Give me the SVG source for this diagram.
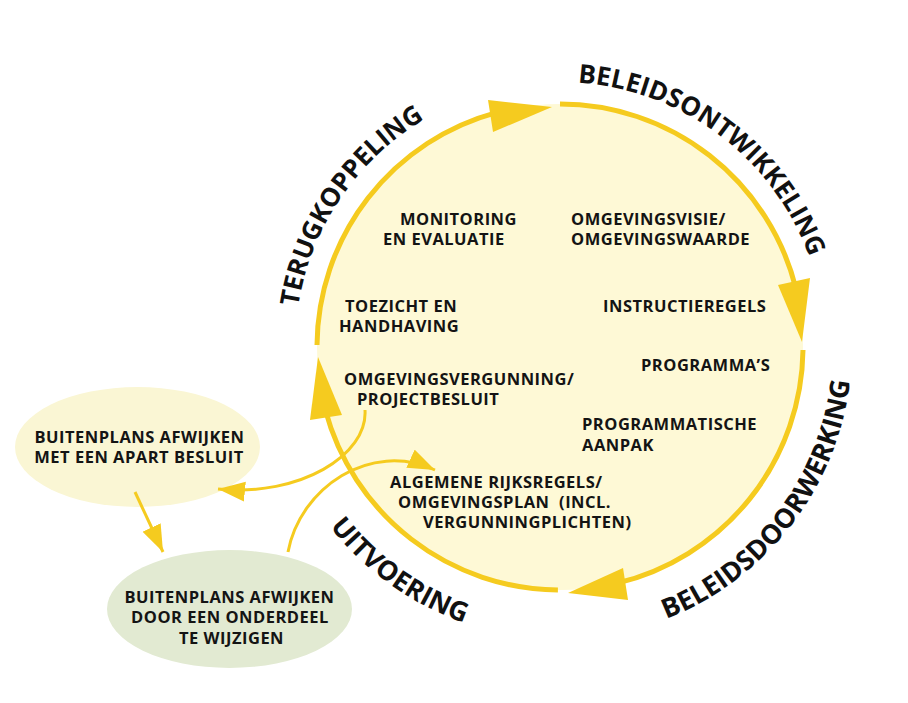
<svg xmlns="http://www.w3.org/2000/svg" xmlns:xlink="http://www.w3.org/1999/xlink" width="908" height="703" viewBox="0 0 908 703">
<style>
.bg{fill:#ffffff}
.ring{fill:none;stroke:#F5CB1F;stroke-width:5}
.head{fill:#F5CB1F}
.conn{fill:none;stroke:#F5CB1F;stroke-width:3}
.lbl{font-family:"Open Sans","Noto Sans","Liberation Sans",sans-serif;font-weight:700;font-size:16.5px;letter-spacing:0.5px;fill:#141414}
.mid{text-anchor:middle}
.phase{font-family:"Open Sans","Noto Sans","Liberation Sans",sans-serif;font-weight:700;fill:#111111;text-anchor:middle}
.top{font-size:26px}
.bot{font-size:27px}
</style>
<defs>
<marker id="ah" markerUnits="userSpaceOnUse" markerWidth="28" markerHeight="22" refX="27" refY="10" orient="auto">
<path d="M0,0 L27,10 L0,20 z" fill="#F5CB1F"/>
</marker>
<path id="arcTop" d="M330.5,479.5 A265,265 0 1 1 789.5,479.5"/>
<path id="arcBot" d="M285.6,247.1 A292,292 0 1 0 834.4,247.1"/>
</defs>
<rect class="bg" x="0" y="0" width="908" height="703"/>

<g id="cycle">
<circle cx="560" cy="347" r="243" fill="#FEF9D6"/>
<path class="ring" d="M560,104 A243,243 0 0 1 795.8,288.2"/>
<path class="ring" d="M803,350 A243,243 0 0 1 616.7,583.3"/>
<path class="ring" d="M557.9,590 A243,243 0 0 1 325.3,409.9"/>
<path class="ring" d="M317,344.9 A243,243 0 0 1 497.1,112.3"/>
<polygon class="head" points="552,107 488,100 493,132"/>
<polygon class="head" points="802,342 778,285 810,278"/>
<polygon class="head" points="568,593 623,568 628,600"/>
<polygon class="head" points="318,357 310,420 342,415"/>
</g>

<g id="phases">
<text class="phase top"><textPath xlink:href="#arcTop" href="#arcTop" startOffset="296">TERUGKOPPELING</textPath></text>
<text class="phase top"><textPath xlink:href="#arcTop" href="#arcTop" startOffset="726">BELEIDSONTWIKKELING</textPath></text>
<text class="phase bot"><textPath xlink:href="#arcBot" href="#arcBot" startOffset="379">UITVOERING</textPath></text>
<text class="phase bot"><textPath xlink:href="#arcBot" href="#arcBot" startOffset="827">BELEIDSDOORWERKING</textPath></text>
</g>

<g id="monitoring"><text class="lbl" x="400" y="225">MONITORING</text><text class="lbl" x="383" y="245">EN EVALUATIE</text></g>
<g id="omgevingsvisie"><text class="lbl" x="571" y="225">OMGEVINGSVISIE/</text><text class="lbl" x="571" y="245">OMGEVINGSWAARDE</text></g>
<g id="toezicht"><text class="lbl" x="345" y="312">TOEZICHT EN</text><text class="lbl" x="339" y="332">HANDHAVING</text></g>
<g id="instructieregels"><text class="lbl" x="603" y="312">INSTRUCTIEREGELS</text></g>
<g id="programmas"><text class="lbl" x="641" y="371">PROGRAMMA’S</text></g>
<g id="omgevingsvergunning"><text class="lbl" x="344" y="385">OMGEVINGSVERGUNNING/</text><text class="lbl" x="357" y="405">PROJECTBESLUIT</text></g>
<g id="programmatische"><text class="lbl" x="582" y="430">PROGRAMMATISCHE</text><text class="lbl" x="582" y="451">AANPAK</text></g>
<g id="algemene"><text class="lbl" x="390" y="488">ALGEMENE RIJKSREGELS/</text><text class="lbl" x="398" y="508">OMGEVINGSPLAN&#160; (INCL.</text><text class="lbl" x="423" y="528">VERGUNNINGPLICHTEN)</text></g>

<g id="apart-besluit">
<ellipse cx="137.5" cy="447" rx="122.5" ry="60" fill="#FAF6D4"/>
<text class="lbl mid" x="139.5" y="443">BUITENPLANS AFWIJKEN</text>
<text class="lbl mid" x="139" y="463">MET EEN APART BESLUIT</text>
</g>
<g id="onderdeel-wijzigen">
<ellipse cx="229.5" cy="609" rx="122.5" ry="59" fill="#E2EAD2"/>
<text class="lbl mid" x="229.5" y="603">BUITENPLANS AFWIJKEN</text>
<text class="lbl mid" x="230" y="623">DOOR EEN ONDERDEEL</text>
<text class="lbl mid" x="231.5" y="644">TE WIJZIGEN</text>
</g>

<g id="connectors">
<path class="conn" d="M365,410 C368,455 300,497 218,489" marker-end="url(#ah)"/>
<path class="conn" d="M288,552 C300,488 370,440 435,470" marker-end="url(#ah)"/>
<path class="conn" d="M135,492 L163,552" marker-end="url(#ah)"/>
</g>
</svg>
